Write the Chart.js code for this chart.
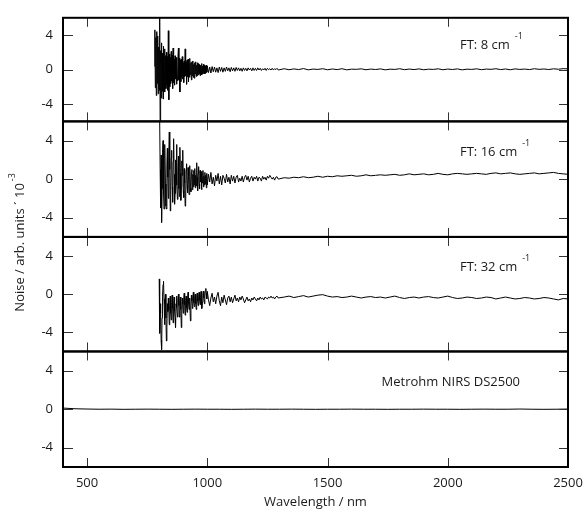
<!DOCTYPE html>
<html lang="en">
<head>
  <meta charset="UTF-8" />
  <title>Noise spectra</title>
  <script src="https://cdn.jsdelivr.net/npm/chart.js"></script>
  <style>
    body { margin: 0; background: #fff; }
    #noiseChart { display: block; }
  </style>
</head>
<body>
  <canvas id="noiseChart" width="585" height="512"></canvas>

  <script>
    // shared wavelength grid for the three FT spectra (nm)
    const wavelengths = [
      780, 782, 784, 786, 788, 790, 792, 794, 796, 798,
      800, 802, 804, 806, 808, 810, 812, 814, 816, 818,
      820, 822, 824, 826, 828, 830, 832, 834, 836, 838,
      840, 842, 844, 846, 848, 850, 852, 854, 856, 858,
      860, 862, 864, 866, 868, 870, 872, 874, 876, 878,
      880, 882, 884, 886, 888, 890, 892, 894, 896, 898,
      900, 902, 904, 906, 908, 910, 912, 914, 916, 918,
      920, 922, 924, 926, 928, 930, 932, 934, 936, 938,
      940, 942, 944, 946, 948, 950, 952, 954, 956, 958,
      960, 962, 964, 966, 968, 970, 972, 974, 976, 978,
      980, 982, 984, 986, 988, 990, 992, 994, 996, 998,
      1000, 1005, 1010, 1015, 1020, 1025, 1030, 1035, 1040, 1045,
      1050, 1055, 1060, 1065, 1070, 1075, 1080, 1085, 1090, 1095,
      1100, 1105, 1110, 1115, 1120, 1125, 1130, 1135, 1140, 1145,
      1150, 1155, 1160, 1165, 1170, 1175, 1180, 1185, 1190, 1195,
      1200, 1205, 1210, 1215, 1220, 1225, 1230, 1235, 1240, 1245,
      1250, 1255, 1260, 1265, 1270, 1275, 1280, 1285, 1290, 1295,
      1320, 1340, 1360, 1380, 1400, 1420, 1440, 1460, 1480, 1500,
      1520, 1540, 1560, 1580, 1600, 1620, 1640, 1660, 1680, 1700,
      1720, 1740, 1760, 1780, 1800, 1820, 1840, 1860, 1880, 1900,
      1920, 1940, 1960, 1980, 2000, 2020, 2040, 2060, 2080, 2100,
      2120, 2140, 2160, 2180, 2200, 2220, 2240, 2260, 2280, 2300,
      2320, 2340, 2360, 2380, 2400, 2420, 2440, 2460, 2480, 2500
    ];

    // FT: 8 cm-1 (x 10^-3)
    const ft8 = [
      0.4, 4.6, -2.1, 3.7, -3.0, 4.4, -1.6, 3.9, -2.8, 2.6,
      -2.4, 6.8, -6.8, 2.2, -3.3, 3.1, -2.5, 1.9, -3.4, 2.7,
      -2.0, 2.4, -2.6, 1.6, -2.2, 2.0, -1.8, 1.5, -2.4, 4.5,
      -3.5, 1.8, -2.0, 1.4, -1.6, 2.1, -1.3, 1.7, -2.2, 2.5,
      -1.5, 1.2, -1.8, 1.6, -1.1, 1.4, -1.7, 1.0, -1.3, 1.5,
      2.5, -1.2, 1.3, -2.6, 1.1, -1.4, 1.2, -0.9, 1.5, -1.1,
      0.8, -1.5, 1.0, -0.8, 2.4, -0.7, 0.9, -1.7, 1.1, -0.8,
      1.2, -1.4, 0.7, -0.9, 1.3, -0.6, 0.8, -1.2, 0.9, -0.7,
      1.0, -0.9, 0.6, -1.0, 0.8, -0.5, 0.9, -0.8, 0.5, -0.7,
      0.8, -0.6, 0.7, -0.5, 0.6, -0.7, 0.5, -0.4, 0.7, -0.6,
      0.4, -0.5, 0.6, -0.3, 0.5, -0.5, 0.4, -0.4, 0.5, -0.3,
      0.4, -0.35, 0.3, -0.4, 0.35, -0.25, 0.3, -0.3, 0.2, -0.35,
      0.3, -0.2, 0.25, -0.3, 0.2, -0.2, 0.3, -0.15, 0.2, -0.25,
      0.25, -0.15, 0.2, -0.2, 0.25, -0.1, 0.2, -0.15, 0.15, -0.2,
      0.2, -0.1, 0.15, -0.15, 0.2, -0.05, 0.15, -0.15, 0.2, -0.1,
      0.15, -0.1, 0.2, -0.05, 0.15, -0.1, 0.1, -0.05, 0.15, -0.1,
      0.15, 0.0, 0.1, -0.05, 0.15, -0.05, 0.1, 0.0, 0.15, -0.05,
      0.1, -0.02, 0.08, 0.0, 0.12, -0.03, 0.06, 0.02, 0.1, -0.02,
      0.07, 0.0, 0.1, -0.03, 0.05, 0.03, 0.09, -0.02, 0.06, 0.01,
      0.08, -0.03, 0.05, 0.02, 0.1, -0.01, 0.06, 0.0, 0.08, -0.02,
      0.05, 0.02, 0.09, -0.02, 0.06, 0.01, 0.08, -0.03, 0.05, 0.02,
      0.09, -0.01, 0.06, 0.03, 0.1, 0.0, 0.07, -0.02, 0.08, 0.02,
      0.06, 0.0, 0.1, 0.03, 0.07, 0.01, 0.09, 0.04, 0.11, 0.08
    ];

    // FT: 16 cm-1
    const ft16 = [
      null, null, null, null, null, null, null, null, null, null,
      null, 6.2, 1.0, -3.0, 2.5, -4.5, -1.0, 2.8, 4.0, -1.5,
      -3.1, 1.2, 3.6, -0.5, -2.8, -3.1, 1.5, 3.2, 0.2, -2.0,
      2.5, 4.9, 1.0, -3.3, -1.2, 2.2, 3.0, -0.8, -2.4, 1.8,
      4.2, 0.5, -2.6, -1.5, 2.0, 1.2, 3.6, -0.6, -2.1, 0.8,
      2.4, -1.0, -1.8, 3.3, 0.6, -2.2, -0.8, 1.9, 0.4, 3.0,
      -1.2, -1.9, 1.1, -0.4, -2.8, -2.5, 0.9, 1.6, -0.7, -1.4,
      1.2, 0.3, -1.6, 0.8, 1.4, -0.9, -1.3, 0.7, 1.0, -1.1,
      0.5, -0.8, 0.9, -0.6, 1.1, -0.9, 0.4, -0.7, 1.7, 0.2,
      -1.2, 0.6, 1.3, -0.5, -1.0, 0.9, -0.3, 0.7, -1.1, 0.8,
      -0.4, 0.9, -0.8, 0.3, -0.6, 0.7, -0.5, 0.4, -0.9, 0.6,
      -0.6, 0.5, -0.3, 0.7, -0.5, 0.2, -0.7, 0.4, -0.2, 0.6,
      -0.5, 0.3, -0.6, 0.4, 0.1, -0.4, 0.5, -0.3, 0.2, -0.5,
      0.4, -0.2, 0.3, -0.4, 0.2, 0.4, -0.3, 0.1, -0.2, 0.3,
      -0.3, 0.2, 0.4, -0.1, 0.3, -0.3, 0.1, 0.3, -0.2, 0.2,
      0.0, 0.3, -0.2, 0.2, 0.1, -0.2, 0.3, 0.0, 0.2, -0.1,
      0.3, 0.1, 0.4, 0.2, 0.0, 0.2, -0.1, 0.2, 0.25, 0.0,
      0.15, 0.1, 0.2, 0.15, 0.25, 0.15, 0.2, 0.3, 0.2, 0.3,
      0.25, 0.35, 0.3, 0.35, 0.4, 0.3, 0.35, 0.45, 0.35, 0.4,
      0.45, 0.4, 0.45, 0.5, 0.4, 0.45, 0.55, 0.45, 0.5, 0.55,
      0.45, 0.5, 0.6, 0.5, 0.45, 0.55, 0.6, 0.55, 0.5, 0.55,
      0.6, 0.55, 0.5, 0.6, 0.65, 0.55, 0.6, 0.65, 0.55, 0.5,
      0.55, 0.6, 0.65, 0.55, 0.6, 0.65, 0.7, 0.6, 0.55, 0.5
    ];

    // FT: 32 cm-1
    const ft32 = [
      null, null, null, null, null, null, null, null, null, null,
      1.6, -4.1, -1.0, -2.0, -4.8, -5.8, -2.5, -0.2, 1.0, 1.35,
      -0.5, -3.2, -1.0, 0.0, -2.5, -4.9, -3.5, -1.0, -1.8, -0.4,
      -1.6, -3.2, -1.2, -0.2, -2.0, -2.7, -0.9, -0.1, -1.5, -3.0,
      -1.2, -0.3, -1.8, -2.5, -3.5, -1.0, -0.2, -1.4, -2.4, -0.6,
      0.0, -1.2, -2.4, -0.8, -0.3, -1.6, -3.5, -2.0, -0.4, -1.0,
      -2.0, -0.6, 0.1, -1.1, -2.2, -0.7, -0.2, -1.4, -1.9, -0.5,
      0.2, -0.9, -1.6, -0.4, -0.8, -2.8, -1.2, -0.1, -0.7, -1.5,
      -0.6, 0.2, -0.9, -1.3, -0.3, 0.0, -1.0, -1.6, -0.5, 0.1,
      -0.7, -1.2, -0.4, 0.2, -0.6, -1.1, -0.3, 0.3, -0.5, -1.5,
      -0.8, -0.2, 0.3, -0.4, -1.0, -0.3, 0.4, 0.6, 0.1, -0.5,
      0.3, -0.6, -1.2, -0.4, 0.1, -0.8, -0.3, -1.0, -0.2, 0.2,
      -0.7, -1.2, -0.3, -0.9, -0.1, -0.6, -1.1, -0.4, -0.2, -0.8,
      -0.3, -0.9, -0.5, -0.1, -0.7, -0.4, -0.8, -0.3, -0.6, -0.2,
      -0.5, -0.9, -0.6, -0.3, -0.7, -0.5, -0.8, -0.4, -0.6, -0.3,
      -0.5, -0.7, -0.4, -0.6, -0.3, -0.5, -0.4, -0.6, -0.3, -0.4,
      -0.5, -0.3, -0.4, -0.2, -0.4, -0.3, -0.5, -0.3, -0.2, -0.4,
      -0.3, -0.2, -0.35, -0.25, -0.15, -0.3, -0.2, -0.1, -0.05, -0.2,
      -0.3, -0.25, -0.35, -0.3, -0.2, -0.3, -0.4, -0.3, -0.25, -0.35,
      -0.3, -0.4, -0.3, -0.2, -0.35, -0.45, -0.35, -0.3, -0.4, -0.3,
      -0.25, -0.35, -0.4, -0.3, -0.2, -0.35, -0.45, -0.4, -0.3, -0.35,
      -0.45, -0.4, -0.3, -0.35, -0.5, -0.4, -0.3, -0.4, -0.5, -0.45,
      -0.35, -0.4, -0.5, -0.45, -0.35, -0.4, -0.5, -0.6, -0.45, -0.5
    ];

    // Metrohm NIRS DS2500
    const dsWavelengths = [
      400, 450, 500, 550, 600, 650, 700, 750, 800, 850,
      900, 950, 1000, 1050, 1100, 1150, 1200, 1250, 1300, 1350,
      1400, 1450, 1500, 1550, 1600, 1650, 1700, 1750, 1800, 1850,
      1900, 1950, 2000, 2050, 2100, 2150, 2200, 2250, 2300, 2350,
      2400, 2450, 2500
    ];
    const ds2500 = [
      0.12, 0.05, 0.02, 0.0, 0.01, -0.01, 0.0, 0.01, 0.0, -0.01,
      0.0, 0.01, 0.0, 0.0, -0.01, 0.0, 0.01, 0.0, 0.0, 0.01,
      0.0, -0.01, 0.0, 0.0, 0.01, 0.0, 0.0, -0.01, 0.0, 0.0,
      0.01, 0.0, 0.0, -0.01, 0.0, 0.01, 0.0, 0.0, 0.02, 0.0,
      -0.01, 0.0, 0.02
    ];

    const xTicks = [500, 1000, 1500, 2000, 2500];
    const yTicks = [-4, 0, 4];
    const panelLabels = ["FT: 8 cm", "FT: 16 cm", "FT: 32 cm", "Metrohm NIRS DS2500"];
    const panelSups = ["-1", "-1", "-1", ""];
    const yTitle = "Noise / arb. units \u00b4 10";
    const yTitleSup = "-3";

    const panelIds = ["y1", "y2", "y3", "y4"];
    const panelWeights = [104, 116, 115, 116];
    const fontFamily = "'Open Sans', 'DejaVu Sans', sans-serif";
    const textColor = "#1a1a1a";

    function toPoints(xs, ys) {
      return xs.map((x, i) => ({ x: x, y: ys[i] }));
    }

    const scales = {
      x: {
        type: "linear",
        position: "bottom",
        min: 400,
        max: 2500,
        grid: { display: false, drawTicks: false },
        border: { display: false },
        ticks: {
          padding: 8,
          color: textColor,
          font: { family: fontFamily, size: 13 },
          maxRotation: 0,
          autoSkip: false,
          callback: (v) => String(v),
        },
        afterBuildTicks: (s) => { s.ticks = xTicks.map((v) => ({ value: v })); },
        afterFit: (s) => { s.height = 45; s.paddingRight = 0; },
        title: {
          display: true,
          text: "Wavelength / nm",
          color: textColor,
          font: { family: fontFamily, size: 13 },
          padding: { top: 0, bottom: 2 },
        },
      },
    };
    panelIds.forEach((id, i) => {
      scales[id] = {
        type: "linear",
        position: "left",
        stack: "panels",
        stackWeight: panelWeights[i],
        weight: 4 - i,
        min: -6,
        max: 6,
        grid: { display: false, drawTicks: false },
        border: { display: false },
        ticks: { padding: 10, color: textColor, font: { family: fontFamily, size: 13 }, callback: (v) => String(v) },
        afterBuildTicks: (s) => { s.ticks = yTicks.map((v) => ({ value: v })); },
        afterFit: (s) => { s.width = 63; },
      };
    });

    // frame, inward ticks, panel captions and y title
    const framePlugin = {
      id: "frame",
      afterDraw(chart) {
        const ctx = chart.ctx;
        const xs = chart.scales.x;
        panelIds.forEach((id, i) => {
          const ys = chart.scales[id];
          ctx.save();
          ctx.strokeStyle = "#333";
          ctx.lineWidth = 1;
          ctx.beginPath();
          xTicks.forEach((v) => {
            const px = Math.round(xs.getPixelForValue(v)) + 0.5;
            ctx.moveTo(px, ys.top);
            ctx.lineTo(px, ys.top + 9);
            ctx.moveTo(px, ys.bottom);
            ctx.lineTo(px, ys.bottom - 9);
          });
          yTicks.forEach((v) => {
            const py = Math.round(ys.getPixelForValue(v)) + 0.5;
            ctx.moveTo(xs.left, py);
            ctx.lineTo(xs.left + 10, py);
            ctx.moveTo(xs.right, py);
            ctx.lineTo(xs.right - 9, py);
          });
          ctx.stroke();

          ctx.strokeStyle = "#000";
          ctx.lineWidth = 2;
          ctx.strokeRect(xs.left, ys.top, xs.right - xs.left, ys.bottom - ys.top);

          // caption
          ctx.fillStyle = textColor;
          ctx.textBaseline = "middle";
          ctx.font = "13px " + fontFamily;
          const cy = ys.getPixelForValue(2.8);
          if (panelSups[i]) {
            const tx = xs.right - 108;
            ctx.textAlign = "left";
            ctx.fillText(panelLabels[i], tx, cy);
            const w = ctx.measureText(panelLabels[i]).width;
            ctx.font = "9px " + fontFamily;
            ctx.fillText(panelSups[i], tx + w + 5, cy - 9);
          } else {
            ctx.textAlign = "right";
            ctx.fillText(panelLabels[i], xs.right - 48, cy);
          }
          ctx.restore();
        });

        // rotated y-axis title with superscript
        const top = chart.scales[panelIds[0]].top;
        const bottom = chart.scales[panelIds[3]].bottom;
        ctx.save();
        ctx.translate(20, (top + bottom) / 2);
        ctx.rotate(-Math.PI / 2);
        ctx.fillStyle = textColor;
        ctx.textBaseline = "middle";
        ctx.textAlign = "left";
        ctx.font = "13px " + fontFamily;
        const mw = ctx.measureText(yTitle).width;
        ctx.font = "9px " + fontFamily;
        const sw = ctx.measureText(yTitleSup).width;
        const start = -(mw + 2 + sw) / 2;
        ctx.font = "13px " + fontFamily;
        ctx.fillText(yTitle, start, 0);
        ctx.font = "9px " + fontFamily;
        ctx.fillText(yTitleSup, start + mw + 2, -8);
        ctx.restore();
      },
    };

    const lineStyle = { borderColor: "#000", borderWidth: 1, pointRadius: 0, tension: 0, spanGaps: false };

    new Chart(document.getElementById("noiseChart").getContext("2d"), {
      type: "line",
      data: {
        datasets: [
          Object.assign({ label: "FT: 8 cm-1", data: toPoints(wavelengths, ft8), yAxisID: "y1" }, lineStyle),
          Object.assign({ label: "FT: 16 cm-1", data: toPoints(wavelengths, ft16), yAxisID: "y2" }, lineStyle),
          Object.assign({ label: "FT: 32 cm-1", data: toPoints(wavelengths, ft32), yAxisID: "y3" }, lineStyle),
          Object.assign({ label: "Metrohm NIRS DS2500", data: toPoints(dsWavelengths, ds2500), yAxisID: "y4" }, lineStyle),
        ],
      },
      options: {
        responsive: false,
        animation: false,
        layout: { padding: { top: 16, right: 17, left: 0, bottom: 0 } },
        plugins: { legend: { display: false }, tooltip: { enabled: false } },
        scales: scales,
      },
      plugins: [framePlugin],
    });
  </script>
</body>
</html>
